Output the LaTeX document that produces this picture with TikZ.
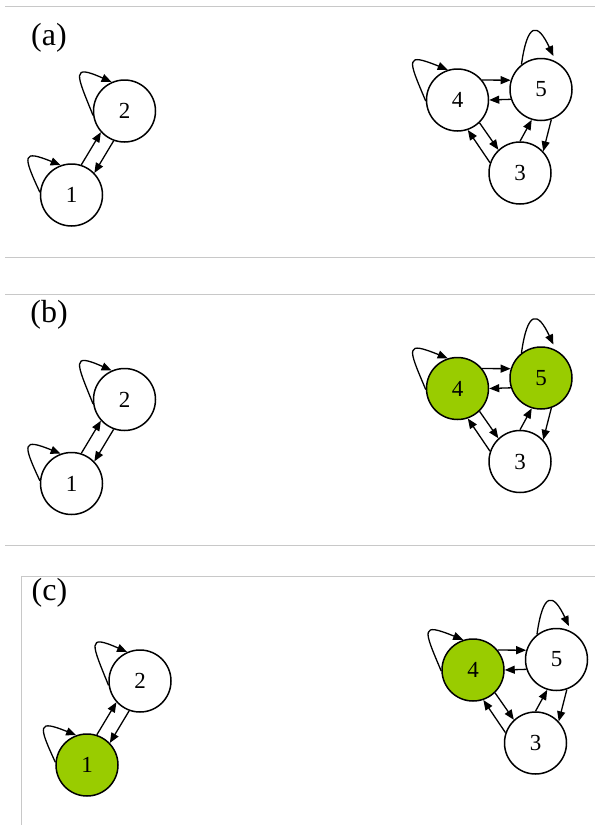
\documentclass[tikz,border=0pt]{standalone}
\usepackage{fontspec}
\setmainfont{Liberation Serif}
\usetikzlibrary{arrows.meta}
\definecolor{onc}{HTML}{99CC00}
\definecolor{framec}{HTML}{C8C8C8}

\begin{document}
\begin{tikzpicture}[
    x=1pt,y=1pt,
    st/.style={circle,draw,line width=1.5pt,fill=#1,minimum size=62pt,inner sep=0pt,font=\fontsize{23}{27}\selectfont},
    st/.default=white,
    link/.style={-{Triangle[length=10pt,width=8pt]},line width=1.3pt},
    frameline/.style={framec,line width=1pt},
    lbl/.style={font=\fontsize{32}{36}\selectfont,inner sep=0pt},
  ]
\useasboundingbox (0,0) rectangle (595,-825);

% ======================= frame lines and panel labels =======================
\draw[frameline] (5,-6) -- (595,-6);
\draw[frameline] (5,-257) -- (595,-257);
\draw[frameline] (5,-294) -- (595,-294);
\draw[frameline] (5,-545) -- (595,-545);
\draw[frameline] (21,-825) -- (21,-576) -- (595,-576);
\node[lbl] (labA) at (49,-37.5) {(a)};
\node[lbl] (labB) at (49,-315) {(b)};
\node[lbl] (labC) at (49.5,-593) {(c)};

% ======================= PANEL A: nothing marked =======================
\begin{scope}
  \node[st] (a1) at (71.5,-195) {1};
  \node[st] (a2) at (124.5,-111) {2};
  \node[st] (a3) at (520,-173) {3};
  \node[st] (a4) at (457.5,-100) {4};
  \node[st] (a5) at (541,-89.5) {5};

  % pair 1-2
  \draw[link] (a1.72) -- (a2.222);
  \draw[link] (a2.250) -- (a1.44);
  \draw[link] (a1.175) to[out=115,in=158,looseness=3.1] (a1.110);
  \draw[link] (a2.188) to[out=112,in=156,looseness=3] (a2.114);

  % triangle 3-4-5
  \draw[link] (a4.39) -- (a5.163);
  \draw[link] (a5.198) -- (a4.0);
  \draw[link] (a4.314) -- (a3.133);
  \draw[link] (a3.161) -- (a4.289);
  \draw[link] (a3.90) -- (a5.253);
  \draw[link] (a5.289) -- (a3.43);
  \draw[link] (a4.182) to[out=113,in=158,looseness=3.1] (a4.108);
  \draw[link,shorten >=6pt] (a5.128) to[out=82,in=115,looseness=3.2] (a5.62);
\end{scope}

% ======================= PANEL B: 4 and 5 marked =======================
\begin{scope}[yshift=-288.5pt]
  \node[st] (b1) at (71.5,-195) {1};
  \node[st] (b2) at (124.5,-111) {2};
  \node[st] (b3) at (520,-173) {3};
  \node[st=onc] (b4) at (457.5,-100) {4};
  \node[st=onc] (b5) at (541,-89.5) {5};

  \draw[link] (b1.72) -- (b2.222);
  \draw[link] (b2.250) -- (b1.44);
  \draw[link] (b1.175) to[out=115,in=158,looseness=3.1] (b1.110);
  \draw[link] (b2.188) to[out=112,in=156,looseness=3] (b2.114);

  \draw[link] (b4.39) -- (b5.163);
  \draw[link] (b5.198) -- (b4.0);
  \draw[link] (b4.314) -- (b3.133);
  \draw[link] (b3.161) -- (b4.289);
  \draw[link] (b3.90) -- (b5.253);
  \draw[link] (b5.289) -- (b3.43);
  \draw[link] (b4.182) to[out=113,in=158,looseness=3.1] (b4.108);
  \draw[link,shorten >=6pt] (b5.128) to[out=82,in=115,looseness=3.2] (b5.62);
\end{scope}

% ======================= PANEL C: 1 and 4 marked =======================
\begin{scope}[xshift=15.5pt,yshift=-570pt]
  \node[st=onc] (c1) at (71.5,-195) {1};
  \node[st] (c2) at (124.5,-111) {2};
  \node[st] (c3) at (520,-173) {3};
  \node[st=onc] (c4) at (457.5,-100) {4};
  \node[st] (c5) at (541,-89.5) {5};

  \draw[link] (c1.72) -- (c2.222);
  \draw[link] (c2.250) -- (c1.44);
  \draw[link] (c1.175) to[out=115,in=158,looseness=3.1] (c1.110);
  \draw[link] (c2.188) to[out=112,in=156,looseness=3] (c2.114);

  \draw[link] (c4.39) -- (c5.163);
  \draw[link] (c5.198) -- (c4.0);
  \draw[link] (c4.314) -- (c3.133);
  \draw[link] (c3.161) -- (c4.289);
  \draw[link] (c3.90) -- (c5.253);
  \draw[link] (c5.289) -- (c3.43);
  \draw[link] (c4.182) to[out=113,in=158,looseness=3.1] (c4.108);
  \draw[link,shorten >=6pt] (c5.128) to[out=82,in=115,looseness=3.2] (c5.62);
\end{scope}

\end{tikzpicture}
\end{document}
